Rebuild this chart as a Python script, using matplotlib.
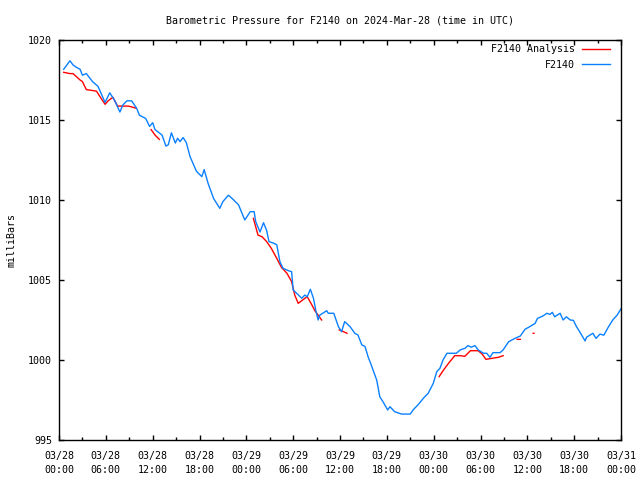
import numpy as np
import matplotlib
matplotlib.use("Agg")
import matplotlib.pyplot as plt
import matplotlib.dates as mdates

# hours since 2024-03-28 00:00 UTC, pressure in mb
obs_hours = [0.6, 1.4, 1.8, 2.2, 2.7, 3.0, 3.5, 4.3, 5.0, 5.9, 6.5, 7.1, 7.8, 8.2,
             8.7, 9.3, 9.95, 10.3, 11.1, 11.6, 12.0, 12.3, 13.2, 13.7, 14.0, 14.4,
             14.9, 15.2, 15.5, 15.9, 16.3, 16.8, 17.6, 18.3, 18.6, 19.1, 19.8, 20.6,
             21.0, 21.7, 22.3, 23.0, 23.8, 24.5, 25.0, 25.2, 25.75, 26.2, 26.6, 26.9,
             27.5, 27.9, 28.3, 28.7, 29.4, 29.8, 30.0, 30.45, 31.1, 31.5, 31.8, 32.2,
             32.6, 32.9, 33.2, 33.4, 34.3, 34.5, 35.2, 35.8, 36.2, 36.6, 37.3, 37.9,
             38.3, 38.8, 39.2, 39.6, 40.0, 40.7, 41.1, 41.5, 42.1, 42.4, 43.0, 43.9,
             45.0, 45.4, 46.0, 46.7, 47.3, 47.95, 48.4, 48.8, 49.2, 49.7, 50.9, 51.4,
             52.0, 52.4, 52.8, 53.3, 53.7, 54.4, 54.8, 55.2, 55.6, 56.5, 56.9, 57.6,
             58.4, 59.1, 59.7, 60.3, 61.0, 61.3, 62.0, 62.5, 62.9, 63.2, 63.5, 64.2,
             64.6, 65.0, 65.5, 65.9, 66.3, 66.7, 67.4, 67.6, 68.4, 68.8, 69.3, 69.8,
             70.4, 71.0, 71.5, 72.0]
obs_mb = [1018.17, 1018.7, 1018.44, 1018.3, 1018.17, 1017.8, 1017.9, 1017.4, 1017.1,
          1016.1, 1016.7, 1016.25, 1015.5, 1015.94, 1016.2, 1016.2, 1015.73, 1015.3,
          1015.1, 1014.6, 1014.83, 1014.4, 1014.06, 1013.37, 1013.45, 1014.2, 1013.56,
          1013.86, 1013.65, 1013.9, 1013.6, 1012.7, 1011.8, 1011.46, 1011.9, 1011.04,
          1010.1, 1009.48, 1009.9, 1010.3, 1010.04, 1009.7, 1008.75, 1009.27, 1009.27,
          1008.65, 1008.0, 1008.58, 1008.1, 1007.4, 1007.3, 1007.2, 1006.15, 1005.73,
          1005.58, 1005.52, 1004.38, 1004.17, 1003.86, 1004.06, 1003.95, 1004.42,
          1003.86, 1003.1, 1002.5, 1002.8, 1003.08, 1002.92, 1002.92, 1002.08, 1001.77,
          1002.4, 1002.08, 1001.67, 1001.56, 1000.94, 1000.85, 1000.2, 999.69, 998.75,
          997.7, 997.4, 996.88, 997.08, 996.77, 996.62, 996.62, 996.9, 997.2, 997.62,
          997.92, 998.54, 999.27, 999.48, 1000.0, 1000.42, 1000.42, 1000.63, 1000.73,
          1000.9, 1000.8, 1000.9, 1000.63, 1000.42, 1000.42, 1000.17, 1000.46, 1000.46,
          1000.63, 1001.14, 1001.35, 1001.5, 1001.92, 1002.08, 1002.29, 1002.6, 1002.75,
          1002.92, 1002.85, 1002.98, 1002.7, 1002.92, 1002.5, 1002.7, 1002.5, 1002.48,
          1002.08, 1001.77, 1001.19, 1001.42, 1001.67, 1001.35, 1001.62, 1001.55,
          1002.08, 1002.54, 1002.8, 1003.2]

# analysis series, NaN marks a gap
ana_hours = [0.6, 1.4, 1.8, 2.7, 3.0, 3.5, 4.2, 4.8, 5.25, 5.9, 6.3, 6.9, 7.5, 8.2,
             8.9, 9.5, 9.9, 10.5,
             11.8, 12.3, 12.85, 13.5,
             24.9, 25.5, 26.0, 26.6, 27.2, 27.9, 28.5, 29.2, 29.8, 30.2, 30.65, 31.2,
             31.8, 32.4, 32.8, 33.2, 33.65, 34.5,
             35.9, 36.3, 36.9, 37.5,
             48.7, 49.2, 49.9, 50.7, 51.4, 52.0, 52.7, 53.7, 54.2, 54.7, 55.4, 56.3,
             56.9, 57.5,
             58.7, 59.1, 59.5,
             60.75, 60.85]
ana_mb = [1017.98, 1017.9, 1017.9, 1017.5, 1017.4, 1016.9, 1016.85, 1016.8, 1016.46,
          1015.98, 1016.2, 1016.42, 1015.87, 1015.87, 1015.87, 1015.79, 1015.73, np.nan,
          1014.4, 1014.06, 1013.79, np.nan,
          1008.85, 1007.8, 1007.71, 1007.4, 1006.98, 1006.35, 1005.79, 1005.42, 1004.9,
          1004.06, 1003.54, 1003.75, 1003.96, 1003.44, 1003.08, 1002.8, 1002.5, np.nan,
          1001.88, 1001.8, 1001.67, np.nan,
          998.96, 999.33, 999.79, 1000.27, 1000.27, 1000.23, 1000.58, 1000.58, 1000.38,
          1000.04, 1000.1, 1000.17, 1000.27, np.nan,
          1001.29, 1001.29, np.nan,
          1001.67, 1001.67]

start = np.datetime64("2024-03-28T00:00")


def to_time(hours):
    return start + (np.array(hours) * 60).astype("timedelta64[m]")


plt.rcParams["font.family"] = "DejaVu Sans Mono"
plt.rcParams["font.size"] = 7.2

fig = plt.figure(figsize=(6.4, 4.8), dpi=100)
ax = fig.add_axes([59 / 640, 1 - 440 / 480, 562 / 640, 400 / 480])

ax.plot(to_time(ana_hours), ana_mb, color="#ff0000", lw=1, label="F2140 Analysis")
ax.plot(to_time(obs_hours), obs_mb, color="#0a80ff", lw=1, label="F2140")

ax.set_xlim(start, start + np.timedelta64(72, "h"))
ax.set_ylim(995, 1020)
ax.set_yticks(range(995, 1021, 5))
ax.xaxis.set_major_locator(mdates.HourLocator(byhour=range(0, 24, 6)))
ax.xaxis.set_minor_locator(mdates.HourLocator(byhour=range(3, 24, 6)))
ax.xaxis.set_major_formatter(mdates.DateFormatter("%m/%d\n%H:%M"))

ax.tick_params(which="both", direction="in", top=True, right=True, width=1)
ax.tick_params(which="major", length=3.5, pad=5)
ax.tick_params(axis="x", which="major", pad=8)
ax.tick_params(which="minor", length=2)
for lbl in ax.get_xticklabels():
    lbl.set_linespacing(1.5)
for s in ax.spines.values():
    s.set_linewidth(1)

ax.set_ylabel("milliBars", labelpad=8)
ax.set_title("Barometric Pressure for F2140 on 2024-Mar-28 (time in UTC)",
             fontsize=7.2, pad=12)

ax.legend(loc="upper right", bbox_to_anchor=(0.981, 0.989), frameon=False,
          markerfirst=False, handlelength=2.8, borderaxespad=0, borderpad=0,
          labelspacing=0.55, handletextpad=0.7)

fig.savefig("out.png", dpi=100)
